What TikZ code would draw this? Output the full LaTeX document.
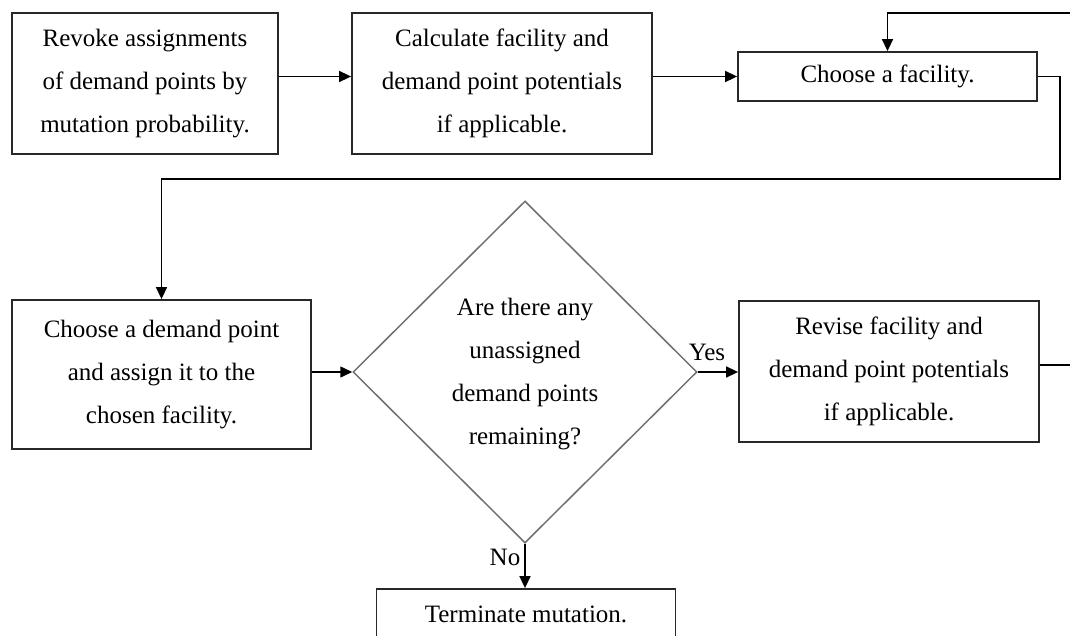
\documentclass[tikz,border=0pt]{standalone}
\usepackage{fontspec}
\setmainfont{Liberation Serif}
\usetikzlibrary{shapes.geometric,arrows.meta,calc}
\definecolor{boxline}{HTML}{282828}
\definecolor{diamline}{HTML}{707070}
\begin{document}
\begin{tikzpicture}[x=1pt,y=-1pt,
  every node/.style={font=\fontsize{25}{43}\selectfont},
  stepbox/.style={draw=boxline,line width=1.8pt,rectangle,inner sep=0pt,align=center,fill=white},
  conn/.style={black,line width=1.5pt,-{Triangle[length=12pt,width=11pt]}},
  plain/.style={black,line width=1.5pt},
  lbl/.style={inner sep=0pt}]
\useasboundingbox (0,0) rectangle (1070,635);
\fill[white] (0,0) rectangle (1070,635);
\node[stepbox,minimum width=266pt,minimum height=141pt] (b1) at (145,83.5)
  {Revoke assignments\\of demand points by\\mutation probability.};
\node[stepbox,minimum width=300pt,minimum height=141pt] (b2) at (502,83.5)
  {Calculate facility and\\demand point potentials\\if applicable.};
\node[stepbox,minimum width=299pt,minimum height=49pt] (b3) at (887.5,76.5)
  {Choose a facility.};
\node[stepbox,minimum width=299pt,minimum height=149pt] (b4) at (161.5,374.5)
  {Choose a demand point\\and assign it to the\\chosen facility.};
\node[draw=diamline,line width=1.5pt,diamond,minimum width=344pt,minimum height=342pt,inner sep=0pt] (d) at (525,372) {};
\node[align=center,inner sep=0pt] (dt) at (525,374) {Are there any\\unassigned\\demand points\\remaining?};
\node[stepbox,minimum width=300pt,minimum height=141pt] (b6) at (889,371.5)
  {Revise facility and\\demand point potentials\\if applicable.};
\node[stepbox,minimum width=299pt,minimum height=50pt] (b5) at (526,614)
  {Terminate mutation.};
\coordinate (e1) at (1070,13);
\coordinate (e2) at (1070,365);
\coordinate (k1) at (1060,179);
\draw[conn] (b1.east |- b3.west) -- (b2.west |- b3.west);
\draw[conn] (b2.east |- b3.west) -- (b3.west);
\draw[conn] (e1) -| (b3.north);
\draw[conn] (b3.east) -| (k1) -| (b4.north);
\draw[conn] (b4.east |- d.west) -- (d.west);
\draw[conn] (d.east) -- (b6.west |- d.east);
\draw[conn] (d.south) -- (d.south |- b5.north);
\draw[plain] (b6.east |- e2) -- (e2);
\node[lbl] (yes) at (707,352) {Yes};
\node[lbl] (no) at (505,557) {No};
\end{tikzpicture}
\end{document}
